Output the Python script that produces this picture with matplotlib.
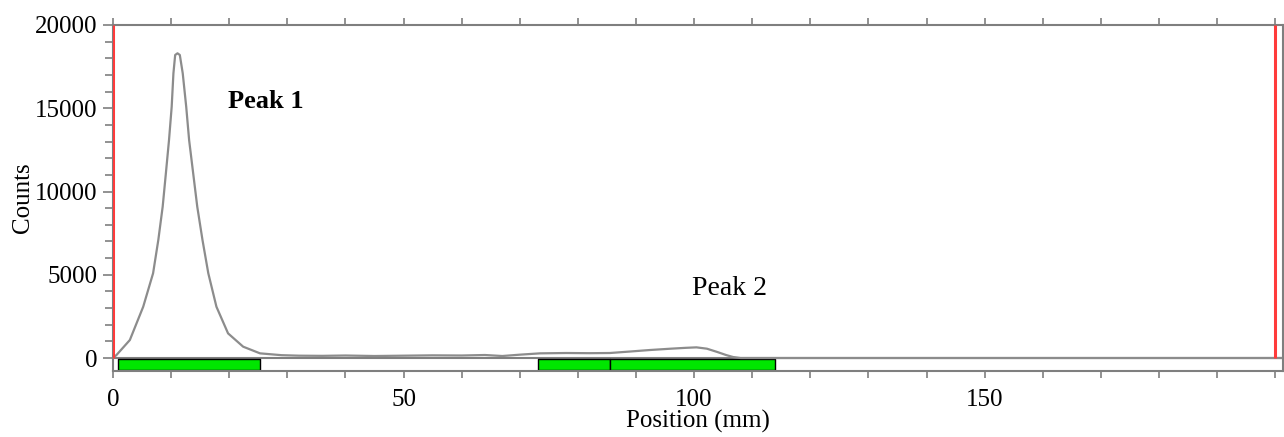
import matplotlib.pyplot as plt
from matplotlib.ticker import MultipleLocator

plt.rcParams["font.family"] = ["Liberation Serif", "DejaVu Serif"]

# profile (position in mm, counts)
position = [0, 0.6, 2.9, 5.2, 6.9, 7.8, 8.55, 9.1, 9.64, 10.1, 10.4, 10.7,
            11.1, 11.5, 12.0, 12.6, 13.1, 13.8, 14.5, 15.4, 16.4, 17.8, 19.8,
            22.4, 25.3, 29, 32, 36, 40, 45, 50, 55, 60, 64, 67, 70, 73.5, 78,
            82, 85.5, 89, 92.4, 96, 98.5, 100.4, 102.2, 104, 105.5, 106.7,
            108, 111, 201]
counts = [0, 180, 1080, 3080, 5090, 7090, 9090, 11090, 13090, 15090, 17100,
          18200, 18300, 18200, 17100, 15090, 13090, 11090, 9090, 7090, 5090,
          3080, 1480, 680, 280, 170, 140, 130, 150, 120, 140, 160, 150, 180,
          120, 200, 280, 300, 290, 300, 390, 480, 560, 610, 640, 560, 360,
          180, 60, 0, 0, 0]

# integration regions shown in the strip below the baseline
region_start = [0.9, 73.1, 85.5]
region_end = [25.3, 85.5, 113.9]

markers_x = [0, 200]

peak_labels = ["Peak 1", "Peak 2"]
peak_pos = [(19.8, 15400), (99.6, 4200)]
peak_weight = ["bold", "normal"]

GREY = "#7f7f7f"

fig = plt.figure(figsize=(12.84, 4.37), dpi=100)
ax = fig.add_axes([0.088, 0.151, 0.9115, 0.7918])

ax.plot(position, counts, color="#8c8c8c", lw=1.6, zorder=3,
        solid_joinstyle="round")
ax.axhline(0, color=GREY, lw=1.5, zorder=2)

strip_lo = -781
for s, e in zip(region_start, region_end):
    ax.fill_between([s, e], strip_lo + 40, -60, color="#00e600",
                    edgecolor="black", lw=1.0, zorder=2)

for mx in markers_x:
    ax.plot([mx, mx], [0, 20000], color="#ff3b3b", lw=2.2, zorder=4,
            solid_capstyle="butt")

for lab, (px, py), w in zip(peak_labels, peak_pos, peak_weight):
    size = 19 if w == "bold" else 20
    ax.text(px, py, lab, fontsize=size, fontweight=w, ha="left",
            va="center")

ax.set_xlim(0, 201.4)
ax.set_ylim(strip_lo, 20000)

ax.set_yticks([0, 5000, 10000, 15000, 20000])
ax.yaxis.set_minor_locator(MultipleLocator(1000))
ax.set_xticks([0, 50, 100, 150])
ax.xaxis.set_minor_locator(MultipleLocator(10))

ax.tick_params(axis="both", which="both", direction="out", color=GREY,
               width=1.2, labelsize=18, labelcolor="black")
ax.tick_params(axis="x", which="both", top=True, length=5, pad=8)
ax.tick_params(axis="y", which="major", length=7, pad=4)
ax.tick_params(axis="y", which="minor", length=5.5)

for sp in ax.spines.values():
    sp.set_color(GREY)
    sp.set_linewidth(1.5)

ax.set_xlabel("Position (mm)", fontsize=18, labelpad=-1)
ax.set_ylabel("Counts", fontsize=18, labelpad=1)

fig.savefig("out.png", dpi=100)
